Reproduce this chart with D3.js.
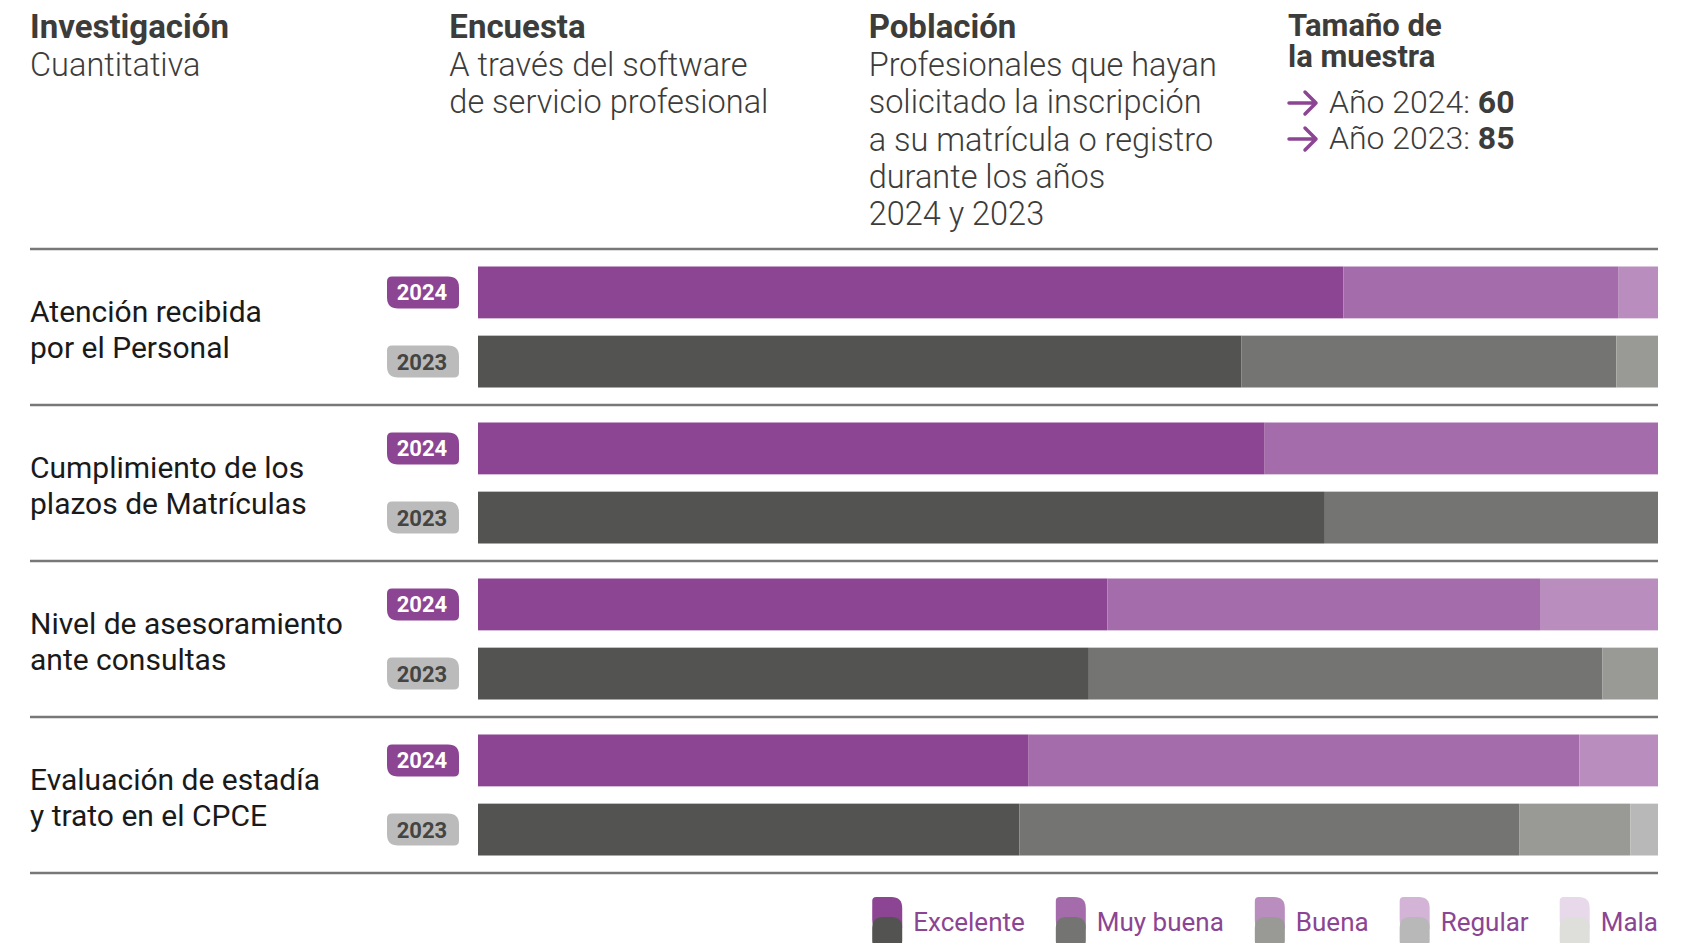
<!DOCTYPE html>
<html lang="es">
<head>
<meta charset="utf-8">
<title>Encuesta de satisfacción</title>
<script src="https://cdn.jsdelivr.net/npm/d3@7"></script>
<style>
  body { margin: 0; background: #fff; }
  svg { display: block; font-family: Roboto, "Noto Sans", sans-serif; }
</style>
</head>
<body>
<script>
// ---- data ----
var categories = [
  ["Atención recibida", "por el Personal"],
  ["Cumplimiento de los", "plazos de Matrículas"],
  ["Nivel de asesoramiento", "ante consultas"],
  ["Evaluación de estadía", "y trato en el CPCE"]
];
var years = ["2024", "2023"];
var ratings = ["Excelente", "Muy buena", "Buena", "Regular", "Mala"];
// answers per rating (Excelente..Mala), one row per category
var counts2024 = [[44, 14, 2, 0, 0], [40, 20, 0, 0, 0], [32, 22, 6, 0, 0], [28, 28, 4, 0, 0]];
var counts2023 = [[55, 27, 3, 0, 0], [61, 24, 0, 0, 0], [44, 37, 4, 0, 0], [39, 36, 8, 2, 0]];
var sampleYears = ["2024", "2023"];
var sampleSizes = [60, 85];

var headers = [
  {title: ["Investigación"], body: ["Cuantitativa"]},
  {title: ["Encuesta"], body: ["A través del software", "de servicio profesional"]},
  {title: ["Población"], body: ["Profesionales que hayan", "solicitado la inscripción", "a su matrícula o registro", "durante los años", "2024 y 2023"]}
];

var purples = ["#8c4593", "#a56cab", "#b98dbe", "#d3b4d6", "#e8d9ea"];
var grays = ["#535351", "#747472", "#999995", "#b8b8b8", "#dededa"];

var W = 1699, H = 943;
var left = 30, right = 1658;

var svg = d3.select("body").append("svg")
  .attr("width", W)
  .attr("height", H);

// leaf shaped box: small radius on tl/br, big on tr/bl
function leaf(x, y, w, h, r1, r2) {
  return "M" + (x + r1) + "," + y +
    "H" + (x + w - r2) + "Q" + (x + w) + "," + y + " " + (x + w) + "," + (y + r2) +
    "V" + (y + h - r1) + "Q" + (x + w) + "," + (y + h) + " " + (x + w - r1) + "," + (y + h) +
    "H" + (x + r2) + "Q" + x + "," + (y + h) + " " + x + "," + (y + h - r2) +
    "V" + (y + r1) + "Q" + x + "," + y + " " + (x + r1) + "," + y + "Z";
}

// ---- header ----
var colX = d3.scalePoint().domain(d3.range(4)).range([30, 1288]);
var lineH = 37.3;

headers.forEach(function(h, i) {
  var g = svg.append("g").attr("transform", "translate(" + colX(i) + ",0)");
  g.append("text")
    .attr("y", 38)
    .attr("font-size", 33).attr("font-weight", 700).attr("fill", "#3c3c3a")
    .text(h.title[0]);
  g.selectAll("text.body")
    .data(h.body)
    .enter().append("text")
    .attr("class", "body")
    .attr("y", function(d, j) { return 76 + j * lineH; })
    .attr("font-size", 32.5).attr("font-weight", 300).attr("fill", "#3c3c3a")
    .text(function(d) { return d; });
});

var tg = svg.append("g").attr("transform", "translate(" + colX(3) + ",0)");
tg.selectAll("text.tt")
  .data(["Tamaño de", "la muestra"])
  .enter().append("text")
  .attr("class", "tt")
  .attr("y", function(d, j) { return 36 + j * 31; })
  .attr("font-size", 31).attr("font-weight", 700).attr("fill", "#3c3c3a")
  .text(function(d) { return d; });

sampleYears.forEach(function(yr, j) {
  var by = 113 + j * 36;
  var ay = by - 10;
  tg.append("path")
    .attr("d", "M1," + ay + "H28M17," + (ay - 11) + "L28," + ay + "L17," + (ay + 11))
    .attr("fill", "none").attr("stroke", "#8c4593").attr("stroke-width", 3.5)
    .attr("stroke-linecap", "round").attr("stroke-linejoin", "round");
  var t = tg.append("text").attr("x", 41).attr("y", by)
    .attr("font-size", 32).attr("fill", "#3c3c3a");
  t.append("tspan").attr("font-weight", 300).text("Año " + yr + ": ");
  t.append("tspan").attr("font-weight", 700).text(sampleSizes[j]);
});

// ---- bars ----
var x = d3.scaleLinear().domain([0, 1]).range([478, right]);
var yRow = d3.scaleBand().domain(d3.range(categories.length)).range([249, 873]);
var yYear = d3.scaleBand().domain(years).range([17.5, 138.5]).paddingInner(0.25);

function stackRow(arr) {
  var total = d3.sum(arr), acc = 0;
  return arr.map(function(v, k) {
    var s = {k: k, x0: acc / total, x1: (acc + v) / total};
    acc += v;
    return s;
  }).filter(function(s) { return s.x1 > s.x0; });
}

// separators
svg.selectAll("line.sep")
  .data(d3.range(categories.length + 1))
  .enter().append("line")
  .attr("class", "sep")
  .attr("x1", left).attr("x2", right)
  .attr("y1", function(d) { return d < categories.length ? yRow(d) : yRow.range()[1]; })
  .attr("y2", function(d) { return d < categories.length ? yRow(d) : yRow.range()[1]; })
  .attr("stroke", "#787878").attr("stroke-width", 2.5);

var rows = svg.selectAll("g.row")
  .data(categories)
  .enter().append("g")
  .attr("class", "row")
  .attr("transform", function(d, i) { return "translate(0," + yRow(i) + ")"; });

rows.selectAll("text.lbl")
  .data(function(d) { return d; })
  .enter().append("text")
  .attr("class", "lbl")
  .attr("x", left)
  .attr("y", function(d, j) { return 73 + j * 35.5; })
  .attr("font-size", 30).attr("fill", "#1a1a1a")
  .text(function(d) { return d; });

rows.each(function(d, i) {
  var g = d3.select(this);
  years.forEach(function(yr) {
    var arr = yr === "2024" ? counts2024[i] : counts2023[i];
    var pal = yr === "2024" ? purples : grays;
    var y0 = yYear(yr), bh = yYear.bandwidth();
    g.selectAll("rect.s" + yr)
      .data(stackRow(arr))
      .enter().append("rect")
      .attr("class", "s" + yr)
      .attr("x", function(s) { return x(s.x0); })
      .attr("width", function(s) { return x(s.x1) - x(s.x0); })
      .attr("y", y0).attr("height", bh)
      .attr("fill", function(s) { return pal[s.k]; });
    // year badge
    var cy = y0 + bh / 2;
    g.append("path")
      .attr("d", leaf(387, cy - 16, 72, 32, 5, 11))
      .attr("fill", yr === "2024" ? "#8c4593" : "#bbbbbb");
    g.append("text")
      .attr("x", 422).attr("y", cy + 8)
      .attr("text-anchor", "middle")
      .attr("font-size", 22).attr("font-weight", 700)
      .attr("fill", yr === "2024" ? "#fff" : "#444442")
      .text(yr);
  });
});

// ---- legend (right aligned) ----
var lg = svg.append("g");
var cursor = right;
for (var k = ratings.length - 1; k >= 0; k--) {
  var t = lg.append("text")
    .attr("y", 931)
    .attr("font-size", 26).attr("fill", "#8c4593")
    .text(ratings[k]);
  var tw = t.node().getComputedTextLength();
  var tx = cursor - tw;
  t.attr("x", tx);
  var sx = tx - 41;
  lg.append("path").attr("d", leaf(sx, 897, 30, 34, 4, 11)).attr("fill", purples[k]);
  lg.append("path").attr("d", leaf(sx, 917, 30, 34, 11, 11)).attr("fill", grays[k]);
  cursor = sx - 31;
}
</script>
</body>
</html>
